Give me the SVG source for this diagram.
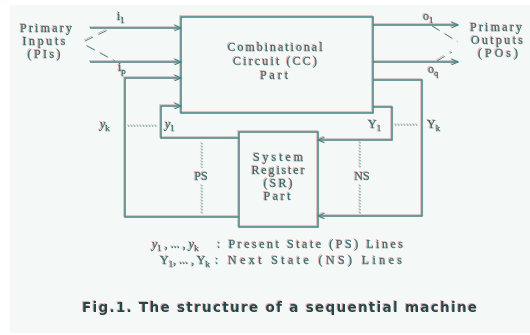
<svg xmlns="http://www.w3.org/2000/svg" width="530" height="335" viewBox="0 0 530 335">
<defs>
<style>
.ln{fill:none;stroke:#2f8a8a;stroke-width:1.5}
.dot{fill:none;stroke:#3a9a9a;stroke-width:1;stroke-dasharray:1.5 1.5}
.dash{fill:none;stroke:#3a8f8f;stroke-width:1;stroke-dasharray:9 6}
.box{fill:none;stroke:#2f8a8a;stroke-width:1.5}
.t{font-family:"Liberation Serif","Times New Roman",serif;font-size:12px;fill:#2a6f70;stroke:#2a6f70;stroke-width:0.25}
.it{font-style:italic}
.sub{font-size:9px}
.c{text-anchor:middle}
.title{font-family:"DejaVu Sans","Liberation Sans",sans-serif;font-weight:bold;font-size:13.5px;fill:#1e4a4c}
</style>
<marker id="ah" markerWidth="8" markerHeight="8" refX="7" refY="3.5" orient="auto" markerUnits="userSpaceOnUse">
<path d="M0.5,0.8 L7,3.5 L0.5,6.2" fill="none" stroke="#2f8a8a" stroke-width="1.2"/>
</marker>
<filter id="fringe" filterUnits="userSpaceOnUse" x="0" y="0" width="530" height="335">
<feOffset in="SourceAlpha" dx="-0.8" dy="-0.6" result="o"/>
<feFlood flood-color="#e06060" flood-opacity="0.5"/>
<feComposite in2="o" operator="in" result="r"/>
<feMerge><feMergeNode in="r"/><feMergeNode in="SourceGraphic"/></feMerge>
</filter>
</defs>
<rect x="0" y="0" width="530" height="335" fill="#ffffff"/>
<rect x="10" y="5" width="520" height="328" fill="#f4f9f7"/>
<g filter="url(#fringe)">
<g id="connectors">
<path class="ln" d="M90,28 H181" marker-end="url(#ah)"/>
<path class="ln" d="M90,62 H181" marker-end="url(#ah)"/>
<path class="ln" d="M239,217 H125 V78 H181" marker-end="url(#ah)"/>
<path class="ln" d="M239,138 H161 V106 H181" marker-end="url(#ah)"/>
<path class="ln" d="M373,25 H458" marker-end="url(#ah)"/>
<path class="ln" d="M373,62 H458" marker-end="url(#ah)"/>
<path class="ln" d="M373,80 H422 V216 H318" marker-end="url(#ah)"/>
<path class="ln" d="M373,107 H392 V140 H318" marker-end="url(#ah)"/>
<path class="dash" d="M85,41 L112,28"/>
<path class="dash" d="M87,46 L115,61"/>
<path class="dash" d="M432,26 L458,42"/>
<path class="dash" d="M437,61 L452,52"/>
<path class="dot" d="M202,143 V168 M202,185 V215"/>
<path class="dot" d="M360,142 V168 M360,185 V215"/>
<path class="dot" d="M128,126 H158"/>
<path class="dot" d="M395,125 H418"/>
<text class="t" x="117" y="20">i<tspan class="sub" dy="3">1</tspan></text>
<text class="t" x="118" y="71">i<tspan class="sub" dy="3">p</tspan></text>
<text class="t" x="423" y="20">o<tspan class="sub" dy="3">1</tspan></text>
<text class="t" x="428" y="73">o<tspan class="sub" dy="3">q</tspan></text>
<text class="t it" x="100" y="128">y<tspan class="sub" dy="3" font-style="normal">k</tspan></text>
<text class="t it" x="165" y="128">y<tspan class="sub" dy="3" font-style="normal">1</tspan></text>
<text class="t" x="368" y="128">Y<tspan class="sub" dy="3">1</tspan></text>
<text class="t" x="427" y="128">Y<tspan class="sub" dy="3">k</tspan></text>
<text class="t c" x="201" y="180">PS</text>
<text class="t c" x="362" y="180">NS</text>
</g>
<g id="pi">
<text class="t c" x="46" y="31.5" textLength="52" lengthAdjust="spacing">Primary</text>
<text class="t c" x="44" y="45" textLength="43" lengthAdjust="spacing">Inputs</text>
<text class="t c" x="44" y="58" textLength="33" lengthAdjust="spacing">(PIs)</text>
</g>
<g id="po">
<text class="t c" x="496" y="30.5" textLength="52" lengthAdjust="spacing">Primary</text>
<text class="t c" x="497" y="44" textLength="52" lengthAdjust="spacing">Outputs</text>
<text class="t c" x="498" y="57" textLength="40" lengthAdjust="spacing">(POs)</text>
</g>
<g id="cc">
<rect class="box" x="181" y="17" width="192" height="96"/>
<text class="t c" x="275" y="51" textLength="95" lengthAdjust="spacing">Combinational</text>
<text class="t c" x="275" y="65" textLength="84" lengthAdjust="spacing">Circuit (CC)</text>
<text class="t c" x="274" y="79" textLength="28" lengthAdjust="spacing">Part</text>
</g>
<g id="sr">
<rect class="box" x="239" y="132" width="79" height="95"/>
<text class="t c" x="278" y="161" textLength="50" lengthAdjust="spacing">System</text>
<text class="t c" x="278" y="174" textLength="53" lengthAdjust="spacing">Register</text>
<text class="t c" x="278" y="187" textLength="29" lengthAdjust="spacing">(SR)</text>
<text class="t c" x="277" y="200" textLength="27" lengthAdjust="spacing">Part</text>
</g>
<g id="legend">
<text class="t" x="152" y="248"><tspan class="it">y</tspan><tspan class="sub" dy="3">1</tspan><tspan dy="-3"> , ... , </tspan><tspan class="it">y</tspan><tspan class="sub" dy="3">k</tspan></text>
<text class="t" x="217" y="248" textLength="186" lengthAdjust="spacing">: Present State (PS) Lines</text>
<text class="t" x="160" y="264">Y<tspan class="sub" dy="3">1</tspan><tspan dy="-3">, ... , Y</tspan><tspan class="sub" dy="3">k</tspan></text>
<text class="t" x="215" y="264" textLength="187" lengthAdjust="spacing">: Next State (NS) Lines</text>
</g>
<text class="title" x="82" y="312" textLength="395" lengthAdjust="spacing">Fig.1. The structure of a sequential machine</text>
</g>
</svg>
